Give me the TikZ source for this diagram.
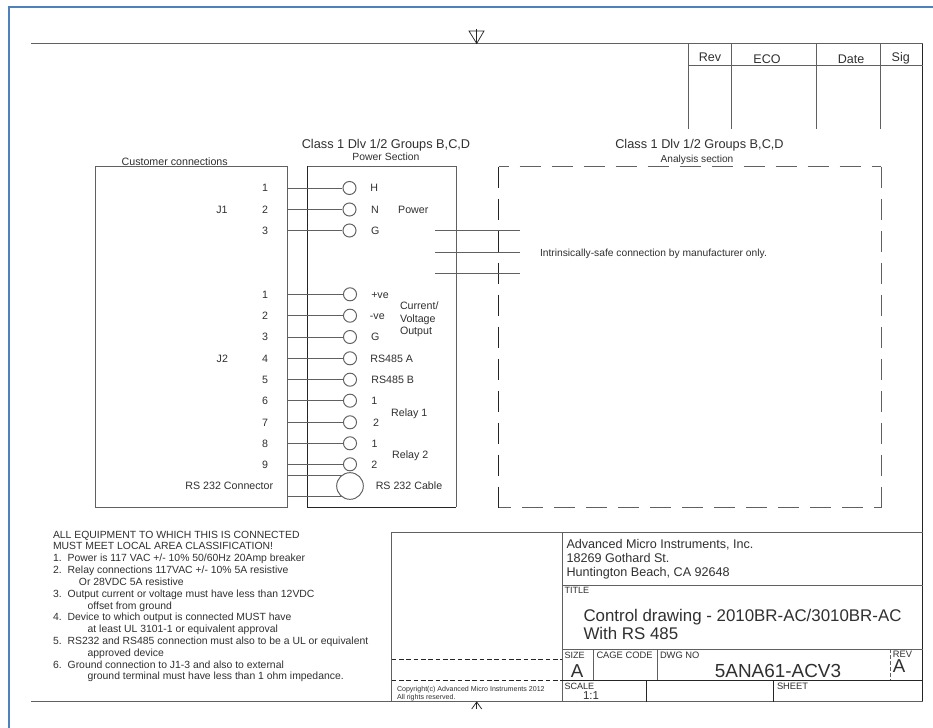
\documentclass[tikz,border=0pt]{standalone}
\usepackage{fontspec}
\setmainfont{Liberation Sans}
\definecolor{txt}{HTML}{303030}
\definecolor{ink}{HTML}{606060}
\definecolor{dark}{HTML}{252525}
\definecolor{edge}{HTML}{4F81BD}
\tikzset{
  lab/.style={font=\fontsize{#1}{#1}\selectfont, text=txt, inner sep=0pt, outer sep=0pt, text height=#1*0.716pt, text depth=0pt},
  lab/.default=8,
  wire/.style={draw=ink, line width=0.72pt},
  thin wire/.style={draw=dark, line width=0.55pt},
  term/.style={circle, draw=ink, line width=0.72pt, fill=white, minimum size=9.8pt, inner sep=0pt},
  bigterm/.style={circle, draw=ink, line width=0.72pt, fill=white, minimum size=20pt, inner sep=0pt},
  sheetbox/.style={draw=none, inner sep=0pt, outer sep=0pt, minimum width=0pt},
  dashline/.style={draw=dark, line width=0.6pt, dash pattern=on 15.75pt off 8.25pt},
}
\begin{document}
\begin{tikzpicture}[x=0.75pt,y=-0.75pt]
\useasboundingbox (0,0) rectangle (933,728);
\fill[white] (0,0) rectangle (933,728);
% page edge
\draw[edge, line width=1.6pt] (9,728) -- (9,7) -- (933,7);
% sheet frame
\coordinate (ftl) at (31,43.5);
\coordinate (ftr) at (922.5,43.5);
\coordinate (fbr) at (922.5,701.5);
\coordinate (fbl) at (31,701.5);
\draw[wire] (ftl) -- (ftr);
\draw[thin wire] (ftr) -- (fbr);
\draw[wire] (fbr) -- (fbl);
% centre marks
\draw[thin wire] (469,31) -- (484,31) -- (476.7,43.5) -- cycle;
\draw[thin wire] (476.7,29) -- (476.7,43.5);
\draw[thin wire] (471.7,709) -- (476.7,702) -- (481.7,709);
\draw[thin wire] (476.7,702) -- (476.7,709);
% revision table
\draw[wire] (688.5,65.5) -- (922.5,65.5);
\foreach \x in {688.5,731.5,816.5,880.5} \draw[wire] (\x,43.5) -- (\x,129);
\node[lab=9.4] (rev) at (710,57) {Rev};
\node[lab=9.4] (eco) at (767,59.5) {ECO};
\node[lab=9.4] (date) at (851,59.5) {Date};
\node[lab=9.4] (sig) at (900.7,57) {Sig};
% headings
\node[lab=9.55] (h1) at (386,143.5) {Class 1 Dlv 1/2 Groups B,C,D};
\node[lab=7.8] (h1b) at (386,157) {Power Section};
\node[lab=9.55] (h2) at (699.5,143.5) {Class 1 Dlv 1/2 Groups B,C,D};
\node[lab=7.6] (h2b) at (697,159) {Analysis section};
\node[lab=8] (h3) at (174.7,162) {Customer connections};
% boxes
\node[sheetbox, draw=ink, line width=0.72pt, minimum width=144pt, minimum height=255.75pt, anchor=north west] (cust) at (95,166) {};
\node[sheetbox, minimum width=111.4pt, minimum height=255.75pt, anchor=north west] (pow) at (307.5,166) {};
\draw[thin wire] (pow.north west) -- (pow.south west) -- (pow.south east);
\draw[wire] (pow.north west) -- (pow.north east) -- (pow.south east);
% analysis box
\node[sheetbox, minimum width=286.9pt, minimum height=255.75pt, anchor=north west] (ana) at (498.5,166.5) {};
\draw[dashline] (ana.north west) -- (ana.south west);
\draw[dashline, draw=ink] (ana.north east) -- (ana.south east);
\draw[dashline, draw=ink, dash phase=8.25pt] (ana.north west) -- (ana.north east);
\draw[dashline, draw=ink, dash phase=6.75pt] (ana.south west) -- (ana.south east);
% intrinsically-safe lines
\foreach \n/\y in {a/230.6,b/252,c/273.4}{
  \coordinate (is\n l) at (435,\y);
  \coordinate (is\n r) at (520,\y);
  \draw[wire] (is\n l) -- (is\n r);
}
\node[lab=7.7, anchor=west] (safe) at (540,253) {Intrinsically-safe connection by manufacturer only.};
% J1
\foreach \n/\y/\num/\t/\tx in {1/188/1/H/374.3, 2/209.5/2/N/375, 3/230.5/3/G/375.3}{
  \node[term] (ja\n) at (349.5,\y) {};
  \node[lab] (jan\n) at (265,\y) {\num};
  \node[lab] (jat\n) at (\tx,\y) {\t};
  \draw[wire] (cust.east |- ja\n) -- (ja\n.west);
}
\node[lab] (j1) at (222,209.5) {J1};
\node[lab] (powr) at (413.3,209.5) {Power};
% J2
\foreach \n/\y/\t/\tx in {1/294.3/+ve/380, 2/315.7/-ve/377.3, 3/337/G/375.3, 4/358.3/RS485 A/391.7, 5/379.7/RS485 B/392.7, 6/400.7/1/374.3, 7/422.3/2/376, 8/443.3/1/374.7, 9/464.3/2/374.3}{
  \node[term] (jb\n) at (350,\y) {};
  \node[lab] (jbn\n) at (265,\y) {\n};
  \node[lab] (jbt\n) at (\tx,\y) {\t};
  \draw[wire] (cust.east |- jb\n) -- (jb\n.west);
}
\node[lab] (j2) at (222.3,358.3) {J2};
\node[lab, anchor=west] (cv1) at (400,306) {Current/};
\node[lab, anchor=west] (cv2) at (400,318.5) {Voltage};
\node[lab, anchor=west] (cv3) at (400,330.5) {Output};
\node[lab] (r1) at (409.3,412.3) {Relay 1};
\node[lab] (r2) at (410.3,454.3) {Relay 2};
% RS232
\coordinate (c1) at (345,475.7);
\coordinate (c2) at (343,496.7);
\draw[wire] (cust.east |- c1) -- (c1);
\draw[wire] (cust.east |- c2) -- (c2);
\node[bigterm] (big) at (350,486) {};
\node[lab] (rsc) at (229.3,486) {RS 232 Connector};
\node[lab] (rsk) at (409,486) {RS 232 Cable};
% notes
\node[lab=7.8, text height=, anchor=north west, align=left, font=\fontsize{7.8}{8.87}\selectfont] (notes) at (53,530.8) {%
ALL EQUIPMENT TO WHICH THIS IS CONNECTED\\
MUST MEET LOCAL AREA CLASSIFICATION!\\
1.\hspace{4.5pt}Power is 117 VAC +/- 10\% 50/60Hz 20Amp breaker\\
2.\hspace{4.5pt}Relay connections 117VAC +/- 10\% 5A resistive\\
\hspace*{19.5pt}Or 28VDC 5A resistive\\
3.\hspace{4.5pt}Output current or voltage must have less than 12VDC\\
\hspace*{26pt}offset from ground\\
4.\hspace{4.5pt}Device to which output is connected MUST have\\
\hspace*{26pt}at least UL 3101-1 or equivalent approval\\
5.\hspace{4.5pt}RS232 and RS485 connection must also to be a UL or equivalent\\
\hspace*{26pt}approved device\\
6.\hspace{4.5pt}Ground connection to J1-3 and also to external\\
\hspace*{26pt}ground terminal must have less than 1 ohm impedance.};
% title block
\draw[wire] (391.5,701.5) -- (391.5,532) -- (922.5,532);
\draw[wire] (562,532) -- (562,701.5);
\draw[wire] (562,585) -- (922.5,585);
\draw[wire] (562,649) -- (922.5,649);
\draw[thin wire] (562,680) -- (922.5,680);
\draw[thin wire, dash pattern=on 3.5pt off 2pt] (391.5,659.5) -- (562,659.5);
\draw[thin wire, dash pattern=on 3.5pt off 2pt] (391.5,680) -- (562,680);
\draw[wire, dash pattern=on 3pt off 1.5pt] (890,649) -- (890,680);
\draw[wire] (593,649) -- (593,680);
\draw[wire] (657,649) -- (657,680);
\draw[thin wire] (646,680) -- (646,701.5);
\draw[thin wire] (773,680) -- (773,701.5);
\node[lab=9.45, anchor=west] (ad1) at (566.5,543.5) {Advanced Micro Instruments, Inc.};
\node[lab=9.45, anchor=west] (ad2) at (566.5,558) {18269 Gothard St.};
\node[lab=9.45, anchor=west] (ad3) at (566.5,572) {Huntington Beach, CA 92648};
\node[lab=6.8, anchor=west] (ttl) at (564.5,590.5) {TITLE};
\node[lab=12.66, anchor=west] (tt1) at (583.5,615) {Control drawing - 2010BR-AC/3010BR-AC};
\node[lab=12.66, anchor=west] (tt2) at (583.5,633.5) {With RS 485};
\node[lab=6.8, anchor=west] (sz) at (564.5,655.5) {SIZE};
\node[lab=14] (sza) at (577,671) {A};
\node[lab=7, anchor=west] (cage) at (596.5,655.5) {CAGE CODE};
\node[lab=7, anchor=west] (dwg) at (660,655.5) {DWG NO};
\node[lab=14.2] (dwn) at (778,671) {5ANA61-ACV3};
\node[lab=7] (rv) at (902.5,654.5) {REV};
\node[lab=14] (rva) at (899,666) {A};
\node[lab=6.8, anchor=west] (sc) at (564.5,686.5) {SCALE};
\node[lab=8.6] (scv) at (591,695.5) {1:1};
\node[lab=7, anchor=west] (sh) at (777,686.5) {SHEET};
\node[lab=5.3, anchor=west] (cp1) at (397,689) {Copyright(c) Advanced Micro Instruments 2012};
\node[lab=5.3, anchor=west] (cp2) at (397,697) {All rights reserved.};
\end{tikzpicture}
\end{document}
